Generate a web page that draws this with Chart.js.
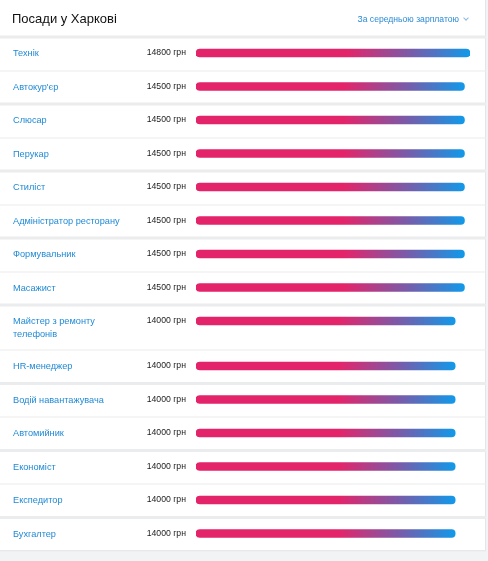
<!DOCTYPE html>
<html lang="uk">
<head>
<meta charset="utf-8">
<title>Посади у Харкові</title>
<script src="https://cdn.jsdelivr.net/npm/chart.js@4.4.1/dist/chart.umd.min.js"></script>
<style>
  html, body { margin: 0; padding: 0; background: #f2f3f5; }
  body { width: 488px; height: 561px; overflow: hidden; font-family: "Liberation Sans", Arial, sans-serif; }
  .card { position: absolute; left: 0; top: 0; width: 485px; height: 550px; background: #fff;
          border-right: 1px solid #e4e5e7; border-bottom: 1px solid #e4e5e7; }
  .header { position: absolute; left: 0; top: 0; width: 485px; height: 36px; z-index: 2; }
  .title { position: absolute; left: 12px; top: 11px; font-size: 13px; line-height: 16px; color: #111; }
  .sort { position: absolute; right: 17px; top: 14px; font-size: 8.6px; line-height: 10px; color: #2b8bd6; }
  .sort i { display: inline-block; width: 3px; height: 3px; margin: 0 0 2px 5px;
            border-right: 1px solid #8fb9e0; border-bottom: 1px solid #8fb9e0; transform: rotate(45deg); }
  .chart-box { position: absolute; left: 0; top: 0; width: 486px; height: 552px; }
</style>
</head>
<body>
<div class="card">
  <div class="header">
    <div class="title">Посади у Харкові</div>
    <div class="sort">За середньою зарплатою<i></i></div>
  </div>
  <div class="chart-box"><canvas id="jobs"></canvas></div>
</div>
<script>
// jobs and average salary, uah
const jobs = [
  'Технік', "Автокур'єр", 'Слюсар', 'Перукар', 'Стиліст', 'Адміністратор ресторану',
  'Формувальник', 'Масажист', ['Майстер з ремонту', 'телефонів'], 'HR-менеджер',
  'Водій навантажувача', 'Автомийник', 'Економіст', 'Експедитор', 'Бухгалтер'
];
const salaries = [14800, 14500, 14500, 14500, 14500, 14500, 14500, 14500,
                  14000, 14000, 14000, 14000, 14000, 14000, 14000];
const currency = 'грн';

// row layout (px): a row grows with the number of label lines
const ROW_H = 33.5;
const EXTRA_LINE = 11.5;
const LINE_H = 13;
const BAR_OFFSET = 16;

const lineCount = l => Array.isArray(l) ? l.length : 1;
const rowTops = [];
let acc = 0;
jobs.forEach(l => { rowTops.push(acc); acc += ROW_H + EXTRA_LINE * (lineCount(l) - 1); });
const totalH = acc;

const PINK = '#e4246a';
const BLUE = '#1199e9';

// separators, job names and salary text
const rowsPlugin = {
  id: 'rows',
  beforeDatasetsDraw(chart) {
    const { ctx, scales: { y } } = chart;
    const w = chart.width;
    ctx.save();
    const bounds = rowTops.concat([totalH]);
    bounds.forEach((b, i) => {
      const py = y.getPixelForValue(b);
      ctx.fillStyle = '#ebecee';
      if (i % 2 === 0) ctx.fillRect(0, py - 1.5, w, 3);
      else ctx.fillRect(0, Math.round(py) - 0.5, w, 1);
    });
    ctx.textBaseline = 'middle';
    jobs.forEach((l, i) => {
      const lines = Array.isArray(l) ? l : [l];
      const h = ROW_H + EXTRA_LINE * (lines.length - 1);
      const mid = y.getPixelForValue(rowTops[i] + h / 2);
      const first = mid - (lines.length - 1) * LINE_H / 2;
      ctx.font = '9.2px "Liberation Sans", Arial, sans-serif';
      ctx.fillStyle = '#1f89d5';
      ctx.textAlign = 'left';
      lines.forEach((t, k) => ctx.fillText(t, 13, first + k * LINE_H));
      ctx.font = '8.7px "Liberation Sans", Arial, sans-serif';
      ctx.fillStyle = '#222';
      ctx.textAlign = 'right';
      ctx.fillText(salaries[i] + ' ' + currency, 186, y.getPixelForValue(rowTops[i] + BAR_OFFSET));
    });
    ctx.restore();
  }
};

const barColor = c => {
  const { chart } = c;
  if (!chart.chartArea || !c.raw) return PINK;
  const x0 = chart.scales.x.getPixelForValue(0);
  const x1 = chart.scales.x.getPixelForValue(c.raw.x);
  const g = chart.ctx.createLinearGradient(x0, 0, x1, 0);
  g.addColorStop(0, PINK);
  g.addColorStop(0.55, PINK);
  g.addColorStop(0.78, '#7b5aa8');
  g.addColorStop(1, BLUE);
  return g;
};

new Chart(document.getElementById('jobs'), {
  type: 'bar',
  data: {
    datasets: [{
      data: salaries.map((v, i) => ({ x: v, y: rowTops[i] + BAR_OFFSET })),
      backgroundColor: barColor,
      borderRadius: 4,
      borderSkipped: false,
      barThickness: 8
    }]
  },
  options: {
    indexAxis: 'y',
    responsive: true,
    maintainAspectRatio: false,
    animation: false,
    layout: { padding: { left: 196, right: 16, top: 37, bottom: 1 } },
    scales: {
      x: { type: 'linear', display: false, offset: false, min: 0, max: Math.max(...salaries) },
      y: { type: 'linear', display: false, offset: false, min: 0, max: totalH, reverse: true }
    },
    plugins: { legend: { display: false }, tooltip: { enabled: false } }
  },
  plugins: [rowsPlugin]
});
</script>
</body>
</html>
